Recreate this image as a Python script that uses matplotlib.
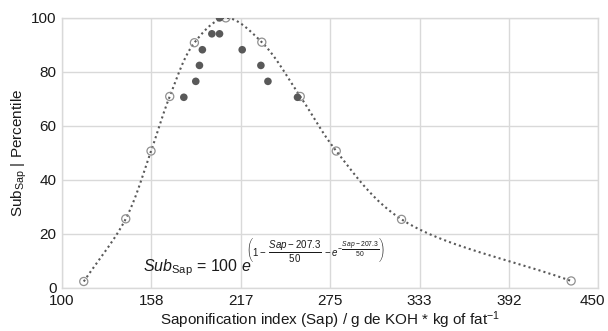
import numpy as np
import matplotlib
matplotlib.use("Agg")
import matplotlib.pyplot as plt
from matplotlib.transforms import ScaledTranslation

plt.rcParams['font.family'] = ['Liberation Sans', 'DejaVu Sans']
plt.rcParams['mathtext.fontset'] = 'custom'
plt.rcParams['mathtext.rm'] = 'Liberation Sans'
plt.rcParams['mathtext.it'] = 'Liberation Sans:italic'
plt.rcParams['mathtext.bf'] = 'Liberation Sans:bold'

# Reference curve points (percentile model)
model_sap = [114.2, 141.6, 158.1, 170.3, 186.4, 206.9, 230.4, 255.5, 279.0, 321.6, 432.3]
model_pct = [2.4, 25.6, 50.7, 70.9, 90.8, 100.0, 91.0, 70.9, 50.7, 25.4, 2.6]

# Observed samples
obs_sap = [179.5, 187.3, 189.7, 191.6, 197.8, 202.8, 202.8, 217.6, 229.8, 234.4, 253.7]
obs_pct = [70.6, 76.5, 82.4, 88.2, 94.1, 94.1, 100.0, 88.2, 82.4, 76.5, 70.6]

x_ticks = np.linspace(100, 450, 7)
x_tick_labels = ["100", "158", "217", "275", "333", "392", "450"]
y_ticks = [0, 20, 40, 60, 80, 100]


def smooth_curve(xs, ys, n=40, sx=1.53, sy=2.7):
    # centripetal Catmull-Rom through the points (distances in screen-ish units)
    pts = np.column_stack([np.asarray(xs) * sx, np.asarray(ys) * sy])
    pts = np.vstack([pts[0] * 2 - pts[1], pts, pts[-1] * 2 - pts[-2]])
    out = []
    for i in range(1, len(pts) - 2):
        p0, p1, p2, p3 = pts[i - 1], pts[i], pts[i + 1], pts[i + 2]
        t0 = 0.0
        t1 = t0 + np.linalg.norm(p1 - p0) ** 0.5
        t2 = t1 + np.linalg.norm(p2 - p1) ** 0.5
        t3 = t2 + np.linalg.norm(p3 - p2) ** 0.5
        t = np.linspace(t1, t2, n)[:, None]
        a1 = (t1 - t) / (t1 - t0) * p0 + (t - t0) / (t1 - t0) * p1
        a2 = (t2 - t) / (t2 - t1) * p1 + (t - t1) / (t2 - t1) * p2
        a3 = (t3 - t) / (t3 - t2) * p2 + (t - t2) / (t3 - t2) * p3
        b1 = (t2 - t) / (t2 - t0) * a1 + (t - t0) / (t2 - t0) * a2
        b2 = (t3 - t) / (t3 - t1) * a2 + (t - t1) / (t3 - t1) * a3
        out.append((t2 - t) / (t2 - t1) * b1 + (t - t1) / (t2 - t1) * b2)
    out = np.vstack(out)
    return out[:, 0] / sx, out[:, 1] / sy


fig = plt.figure(figsize=(6.08, 3.31), dpi=100)
ax = fig.add_axes([0.102, 0.13, 0.882, 0.816])

cx, cy = smooth_curve(model_sap, model_pct)
ax.plot(cx, cy, linestyle=(0, (1, 1.5)), color='#595959', linewidth=1.5, zorder=3)
ax.scatter(model_sap, model_pct, s=34, facecolors='none', edgecolors='#909090',
           linewidths=0.9, zorder=4)
ax.scatter(obs_sap, obs_pct, s=30, color='#595959', edgecolors='none', zorder=5)

ax.set_xlim(100, 450)
ax.set_ylim(0, 100)
ax.set_xticks(x_ticks)
ax.set_xticklabels(x_tick_labels)
ax.set_yticks(y_ticks)
ax.grid(True, color='#d9d9d9', linewidth=1.0)
ax.set_axisbelow(True)
for sp in ax.spines.values():
    sp.set_color('#d9d9d9')
    sp.set_linewidth(1.0)
ax.tick_params(length=0, labelsize=11, colors='#1a1a1a', pad=4)
# keep the last x label inside the figure
last = ax.get_xticklabels()[-1]
last.set_transform(last.get_transform() + ScaledTranslation(-4 / 72, 0, fig.dpi_scale_trans))

ax.set_xlabel("Saponification index (Sap) / g de KOH * kg of fat$^{-1}$",
              fontsize=11, color='#1a1a1a')
ax.xaxis.set_label_coords(0.5, -0.078)
ax.set_ylabel(r"Sub$_{\mathrm{Sap}}$ | Percentile", fontsize=11, color='#1a1a1a', va='center')
ax.yaxis.set_label_coords(-0.08, 0.5)

# model equation: base and exponent drawn as two pieces
base = ax.text(152.9, 6.3, r"$\mathit{Sub}_{\mathrm{Sap}}$ = 100 $\mathit{e}$",
               fontsize=11.5, color='#1a1a1a', ha='left', va='baseline', zorder=6)
expo = (r"$\left(1-\;\dfrac{\mathit{Sap}-207.3}{50}\;-\mathit{e}"
        r"^{-\dfrac{\mathit{Sap}-207.3}{50}}\right)$")
ax.annotate(expo, xy=(1, 0.5), xycoords=base, xytext=(-4, 12), textcoords='offset points',
            fontsize=7, color='#1a1a1a', ha='left', va='center', zorder=6)

fig.savefig("out.png", dpi=100)
